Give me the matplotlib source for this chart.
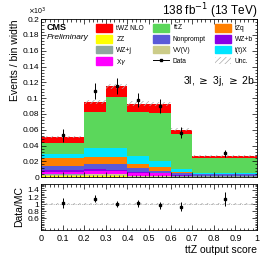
import numpy as np
import matplotlib
matplotlib.use("Agg")
import matplotlib.pyplot as plt
from matplotlib.patches import Patch
from matplotlib.lines import Line2D
from matplotlib.ticker import MultipleLocator, AutoMinorLocator

plt.rcParams['font.family'] = ['Liberation Sans', 'DejaVu Sans']
plt.rcParams['hatch.linewidth'] = 0.5

# ── Dados ─────────────────────────────────────────────────────────────────
edges = [0.0, 0.2, 0.3, 0.4, 0.5, 0.6, 0.7, 1.0]
centers = [0.1, 0.25, 0.35, 0.45, 0.55, 0.65, 0.85]

# empilhamento de baixo para cima (x10^3 eventos / largura do bin)
procs = ['ZZ', 'VV(V)', 'WZ+j', 'X$\\gamma$', 'WZ+b', 'Nonprompt',
         'tZq', 't(t)X', 't$\\bar{\\rm t}$Z', 'tWZ NLO']
zz        = [0.0015, 0.0015, 0.0015, 0.0005, 0.0005, 0.0003, 0.0003]
vvv       = [0.0015, 0.0020, 0.0020, 0.0008, 0.0007, 0.0004, 0.0003]
wzj       = [0.0005, 0.0005, 0.0005, 0.0003, 0.0003, 0.0002, 0.0002]
xgamma    = [0.0030, 0.0040, 0.0040, 0.0035, 0.0035, 0.0006, 0.0003]
wzb       = [0.0020, 0.0020, 0.0010, 0.0010, 0.0008, 0.0008, 0.0008]
nonprompt = [0.0050, 0.0070, 0.0070, 0.0050, 0.0025, 0.0030, 0.0015]
tzq       = [0.0110, 0.0090, 0.0090, 0.0050, 0.0040, 0.0008, 0.0003]
ttx       = [0.0050, 0.0110, 0.0120, 0.0100, 0.0080, 0.0045, 0.0020]
ttz       = [0.0140, 0.0460, 0.0640, 0.0560, 0.0610, 0.0434, 0.0190]
twz       = [0.0070, 0.0120, 0.0140, 0.0110, 0.0110, 0.0060, 0.0020]
colors = ['#ffff00', '#cccc88', '#8fa89f', '#ff00ff', '#8a00e6', '#5a5ad8',
          '#ff7f00', '#00e5ff', '#5bd75b', '#ff0000']

data     = [0.053, 0.109, 0.115, 0.098, 0.090, 0.056, 0.030]
data_err = [0.008, 0.010, 0.010, 0.009, 0.009, 0.007, 0.004]
ratio     = [1.03, 1.15, 1.00, 1.02, 0.97, 0.93, 1.15]
ratio_err = [0.13, 0.10, 0.09, 0.09, 0.10, 0.12, 0.20]
unc_rel = 0.03

layers = [zz, vvv, wzj, xgamma, wzb, nonprompt, tzq, ttx, ttz, twz]
hatch_col = '#aaaaaa'

# ── Figura ────────────────────────────────────────────────────────────────
fig = plt.figure(figsize=(2.70, 2.62), dpi=100)
ax = fig.add_axes([0.152, 0.324, 0.800, 0.603])
axr = fig.add_axes([0.152, 0.122, 0.800, 0.176])

x = np.array(edges)
bottom = np.zeros(len(centers))
for vals, c in zip(layers, colors):
    vals = np.array(vals)
    ax.bar(x[:-1], vals, width=np.diff(x), bottom=bottom, align='edge',
           color=c, linewidth=0)
    bottom = bottom + vals
total = bottom

# banda de incerteza
ax.stairs(total * (1 + unc_rel), x, baseline=total * (1 - unc_rel), fill=True,
          facecolor='none', edgecolor=hatch_col, hatch='//////', linewidth=0)
ax.errorbar(centers, data, yerr=data_err, fmt='s', color='black', ms=1.8,
            elinewidth=0.7, capsize=0)

ax.set_xlim(0, 1)
ax.set_ylim(0, 0.2)
ax.yaxis.set_minor_locator(AutoMinorLocator(5))
ax.xaxis.set_major_locator(MultipleLocator(0.1))
ax.xaxis.set_minor_locator(AutoMinorLocator(5))
ax.set_yticks([0, 0.02, 0.04, 0.06, 0.08, 0.1, 0.12, 0.14, 0.16, 0.18, 0.2])
ax.set_yticklabels(['0', '0.02', '0.04', '0.06', '0.08', '0.1', '0.12',
                    '0.14', '0.16', '0.18', '0.2'])
ax.set_xticklabels([])
ax.set_ylabel('Events / bin width', fontsize=7.5, loc='top', labelpad=2)

for a in (ax, axr):
    a.tick_params(which='both', direction='in', top=True, right=True,
                  labelsize=6, width=0.5, pad=1.5)
    a.tick_params(which='major', length=3.5)
    a.tick_params(which='minor', length=1.8)
    for s in a.spines.values():
        s.set_linewidth(0.6)

fig.text(0.952, 0.942, '138 fb$^{-1}$ (13 TeV)', ha='right', va='baseline', fontsize=8.5)
fig.text(0.105, 0.935, '$\\times$10$^3$', ha='left', va='bottom', fontsize=5)
ax.text(0.025, 0.975, 'CMS', transform=ax.transAxes, ha='left', va='top',
        fontsize=6.5, fontweight='bold')
ax.text(0.025, 0.905, 'Preliminary', transform=ax.transAxes, ha='left', va='top',
        fontsize=6, style='italic')
ax.text(0.99, 0.61, '3l, $\\geq$ 3j, $\\geq$ 2b', transform=ax.transAxes,
        ha='right', va='center', fontsize=7.5)

# legenda
handles = [Patch(color=colors[9]), Patch(color=colors[8]), Patch(color=colors[6]),
           Patch(color=colors[0]), Patch(color=colors[5]), Patch(color=colors[4]),
           Patch(color=colors[2]), Patch(color=colors[1]), Patch(color=colors[7]),
           Patch(color=colors[3]),
           Line2D([], [], color='black', marker='s', ms=1.5, lw=0.7),
           Patch(facecolor='white', edgecolor=hatch_col, hatch='//////', lw=0)]
labels = ['tWZ NLO', procs[8], 'tZq', 'ZZ', 'Nonprompt', 'WZ+b', 'WZ+j', 'VV(V)',
          't(t)X', procs[3], 'Data', 'Unc.']
# ordem por linhas, matplotlib preenche por colunas
order = [0, 3, 6, 9, 1, 4, 7, 10, 2, 5, 8, 11]
ax.legend([handles[i] for i in order], [labels[i] for i in order], ncol=3,
          loc='upper right', bbox_to_anchor=(0.995, 1.005), frameon=False,
          fontsize=4.8, handlelength=2.4, handleheight=1.4, columnspacing=1.3,
          handletextpad=0.6, labelspacing=0.42, borderaxespad=0.1)

# painel razão
axr.stairs(np.full(len(centers), 1 + unc_rel), x,
           baseline=np.full(len(centers), 1 - unc_rel), fill=True,
           facecolor='none', edgecolor=hatch_col, hatch='//////', linewidth=0)
axr.axhline(1, color='#888888', lw=0.5, ls=':')
axr.errorbar(centers, ratio, yerr=ratio_err, fmt='s', color='black', ms=1.8,
             elinewidth=0.7, capsize=0)
axr.set_xlim(0, 1)
axr.set_ylim(0.27, 1.57)
axr.set_yticks([0.6, 0.8, 1.0, 1.2, 1.4])
axr.set_yticklabels(['0.6', '0.8', '1', '1.2', '1.4'])
axr.yaxis.set_minor_locator(AutoMinorLocator(4))
axr.xaxis.set_minor_locator(AutoMinorLocator(5))
axr.set_xticks(np.arange(0, 1.01, 0.1))
axr.set_xticklabels(['0', '0.1', '0.2', '0.3', '0.4', '0.5', '0.6', '0.7',
                     '0.8', '0.9', '1'])
axr.tick_params(axis='x', labelsize=6.5, pad=2.5)
axr.set_ylabel('Data/MC', fontsize=7.5, labelpad=2)
axr.set_xlabel('ttZ output score', fontsize=7.5, loc='right', labelpad=2)

fig.savefig('out.png', dpi=100)
